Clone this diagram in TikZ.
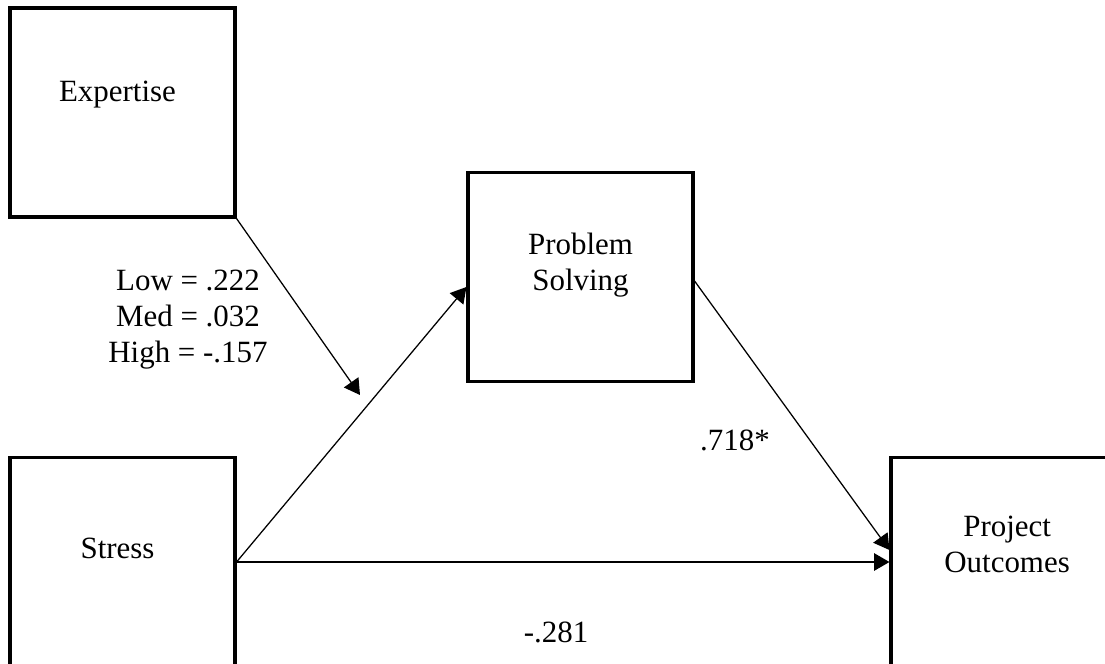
\documentclass[tikz,border=0pt]{standalone}
\usepackage{fontspec}
\setmainfont{Liberation Serif}
\usetikzlibrary{arrows.meta}

\begin{document}
\begin{tikzpicture}[-{Triangle[length=11pt,width=12.5pt]},line width=0.9pt,
                    every node/.style={font=\fontsize{22}{25.6}\selectfont}]
  \tikzstyle{box}=[draw=black,line width=2.2pt,rectangle,inner sep=0pt,
                   minimum width=5.625cm,minimum height=5.225cm]
  \useasboundingbox (0,0) rectangle (27.625,-16.6);

  \node[box] (expertise) at (3.0625,-2.8125) {};
  \node[box] (stress)    at (3.0625,-14.05)  {};
  \node[box] (ps)        at (14.5125,-6.925) {};
  \node[box] (po)        at (25.0875,-14.05) {};

  \node at ([xshift=-0.125cm,yshift=0.44cm]expertise.center) {Expertise};
  \node at ([xshift=-0.125cm,yshift=0.35cm]stress.center) {Stress};
  \node[align=center] at ([yshift=0.3cm]ps.center) {Problem\\Solving};
  \node[align=center] at ([xshift=0.09cm,yshift=0.45cm]po.center) {Project\\Outcomes};

  \coordinate (mod) at (9.0,-9.875);

  \path (stress.east) edge (ps.185)
        (stress.east) edge (po.west)
        (ps.358)      edge (po.174)
        (expertise.south east) edge (mod);

  \node[align=center] (lmh) at (4.7,-7.98) {Low = .222\\Med = .032\\High = -.157};
  \node (b1) at (18.375,-11.0) {.718*};
  \node (b2) at (13.9,-15.8) {-.281};
\end{tikzpicture}
\end{document}
